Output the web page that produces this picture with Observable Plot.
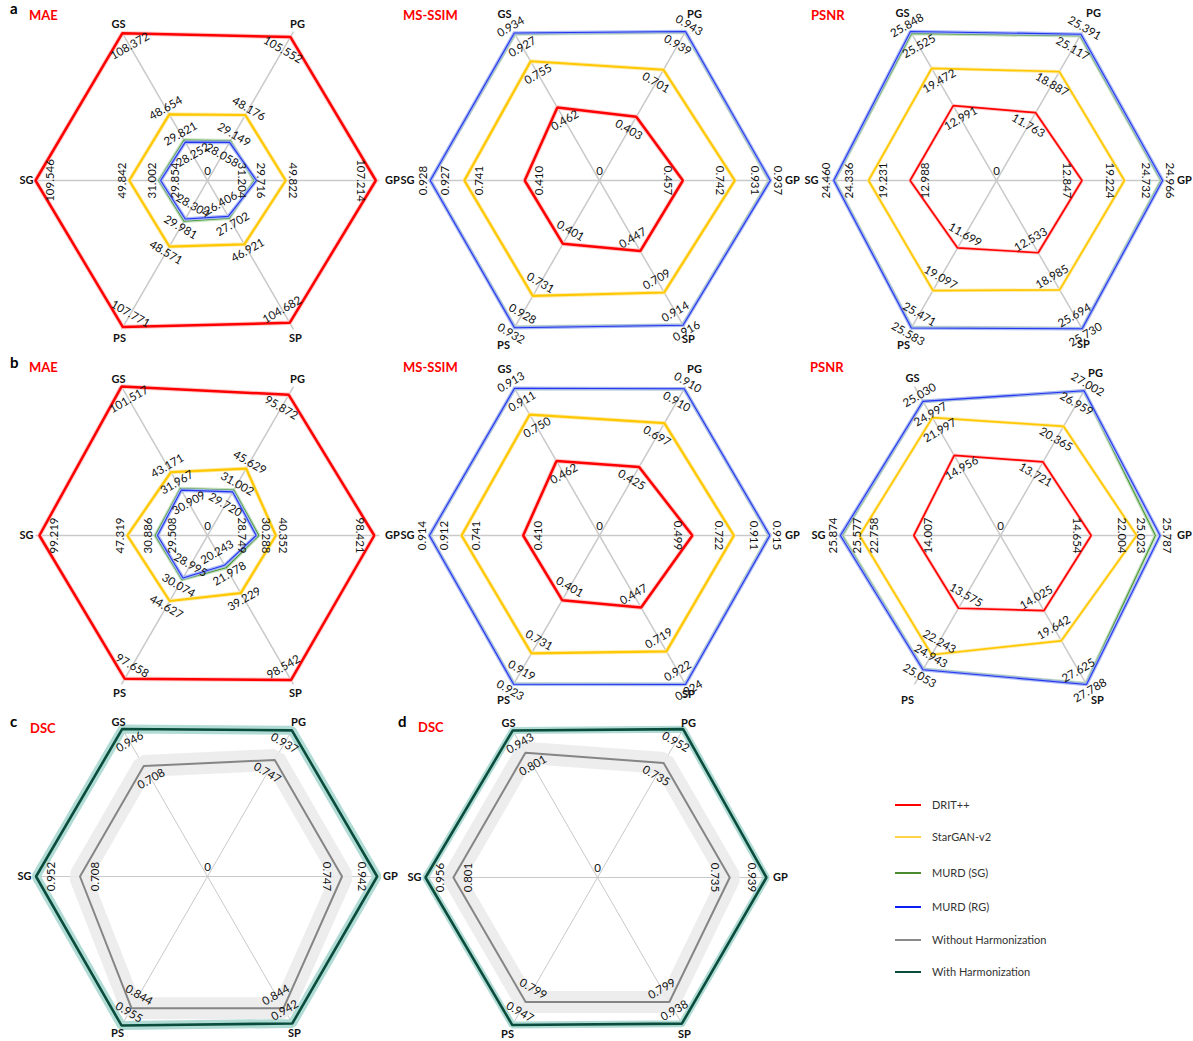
<!DOCTYPE html>
<html><head><meta charset="utf-8">
<script src="https://cdn.jsdelivr.net/npm/d3@7"></script>
<script src="https://cdn.jsdelivr.net/npm/@observablehq/plot@0.6"></script>
<style>
body{margin:0;background:#fff;font-family:Lato,"Open Sans",sans-serif;}
#page{position:relative;width:1193px;height:1041px;overflow:hidden;background:#fff;}
.chart{position:absolute;}
.lbl{position:absolute;font-weight:bold;line-height:1;white-space:nowrap;}
.panel{font-size:15px;color:#000;}
.ttl{font-size:13px;color:#ff0000;}
.leg{position:absolute;font-size:11px;color:#333;line-height:1;white-space:nowrap;}
.sw{position:absolute;height:0;}
</style></head>
<body><div id="page"></div>
<script>
// ---------- data ----------
const axes = ["GS","PG","GP","SP","PS","SG"];

// a — MAE
const maeA_DRIT = [108.372,105.552,107.214,104.682,107.771,109.546];
const maeA_StarGAN = [48.654,48.176,49.822,46.921,48.571,49.842];
const maeA_MURD_SG = [29.821,29.149,29.716,27.702,29.981,31.002];
const maeA_MURD_RG = [28.252,28.058,31.204,26.406,28.304,29.854];
// a — MS-SSIM
const ssimA_DRIT = [0.462,0.403,0.457,0.447,0.401,0.410];
const ssimA_StarGAN = [0.755,0.701,0.742,0.709,0.731,0.741];
const ssimA_MURD_SG = [0.927,0.939,0.931,0.914,0.928,0.927];
const ssimA_MURD_RG = [0.934,0.943,0.937,0.916,0.932,0.928];
// a — PSNR
const psnrA_DRIT = [12.991,11.763,12.847,12.533,11.699,12.988];
const psnrA_StarGAN = [19.472,18.887,19.224,18.985,19.097,19.231];
const psnrA_MURD_SG = [25.525,25.117,24.732,25.694,25.471,24.336];
const psnrA_MURD_RG = [25.848,25.391,24.966,25.730,25.583,24.460];
// b — MAE
const maeB_DRIT = [101.517,95.872,98.421,98.542,97.658,99.219];
const maeB_StarGAN = [43.171,45.629,40.352,39.229,44.627,47.319];
const maeB_MURD_SG = [31.967,31.002,30.288,21.978,30.074,30.886];
const maeB_MURD_RG = [30.909,29.720,28.749,20.243,28.995,29.508];
// b — MS-SSIM
const ssimB_DRIT = [0.462,0.425,0.499,0.447,0.401,0.410];
const ssimB_StarGAN = [0.750,0.697,0.722,0.719,0.731,0.741];
const ssimB_MURD_SG = [0.911,0.910,0.911,0.922,0.919,0.912];
const ssimB_MURD_RG = [0.913,0.910,0.915,0.924,0.923,0.914];
// b — PSNR
const psnrB_DRIT = [14.956,13.721,14.654,14.025,13.575,14.007];
const psnrB_StarGAN = [21.997,20.365,22.004,19.642,22.243,22.758];
const psnrB_MURD_SG = [24.997,26.959,25.023,27.625,24.943,25.577];
const psnrB_MURD_RG = [25.030,27.002,25.787,27.788,25.053,25.874];
// c, d — DSC
const dscC_without = [0.708,0.747,0.747,0.844,0.844,0.708];
const dscC_with = [0.946,0.937,0.942,0.942,0.955,0.952];
const dscD_without = [0.801,0.735,0.735,0.799,0.799,0.801];
const dscD_with = [0.943,0.952,0.939,0.938,0.947,0.956];

const seriesNames = ["DRIT++","StarGAN-v2","MURD (SG)","MURD (RG)"];
const harmNames = ["Without Harmonization","With Harmonization"];

// ---------- styles / layout ----------
const seriesStyle = {
  "DRIT++": {stroke:"#ff0000", w:2.5, halo:"#ffc4c4", hw:4.5},
  "StarGAN-v2": {stroke:"#ffc800", w:2.2, halo:"#ffeaa8", hw:4},
  "MURD (SG)": {stroke:"#4a9a3a", w:1.1, halo:"#bcdcb2", hw:3.5},
  "MURD (RG)": {stroke:"#2536f0", w:1.1, halo:"#a3b3f5", hw:3.6},
  "Without Harmonization": {stroke:"#858585", w:2, halo:"#ebebeb", hw:22},
  "With Harmonization": {stroke:"#0b4d3d", w:2.6, halo:"#a9d8d0", hw:9}
};
const axisAngle = [120,60,0,-60,-120,180];
// offsets of the category labels from the spoke ends, px (GS, PG, GP, SP, PS, SG)
const offMAE  = [[-3,-7],[4,-7],[13,0],[2,9],[-2,9],[-9,0]];
const offSSIM = [[-9,-17],[9,-17],[21,0],[3,10],[-10,16],[-20,0]];
const offPSNRa = [[-8,-18],[11,-18],[16,0],[1,15],[-7,16],[-13,0]];
const offPSNRb = [[-2,-8],[9,-13],[12,0],[11,16],[-7,16],[-10,0]];
const offDSC = [[-3,-5],[5,-5],[11,0],[1,8],[-4,8],[-11,0]];

const charts = [
  {cx:207, cy:180, lab:offMAE, series:[["DRIT++",maeA_DRIT,-1],["StarGAN-v2",maeA_StarGAN,1],["MURD (SG)",maeA_MURD_SG,1],["MURD (RG)",maeA_MURD_RG,-1]]},
  {cx:599, cy:180, lab:offSSIM, series:[["DRIT++",ssimA_DRIT,-1],["StarGAN-v2",ssimA_StarGAN,-1],["MURD (SG)",ssimA_MURD_SG,-1],["MURD (RG)",ssimA_MURD_RG,1]]},
  {cx:996, cy:180, lab:offPSNRa, series:[["DRIT++",psnrA_DRIT,-1],["StarGAN-v2",psnrA_StarGAN,-1],["MURD (SG)",psnrA_MURD_SG,-1],["MURD (RG)",psnrA_MURD_RG,1]], thin:true},
  {cx:207, cy:535, lab:offMAE, series:[["DRIT++",maeB_DRIT,-1],["StarGAN-v2",maeB_StarGAN,1],["MURD (SG)",maeB_MURD_SG,1],["MURD (RG)",maeB_MURD_RG,-1]]},
  {cx:599, cy:535, lab:offSSIM, series:[["DRIT++",ssimB_DRIT,-1],["StarGAN-v2",ssimB_StarGAN,-1],["MURD (SG)",ssimB_MURD_SG,-1],["MURD (RG)",ssimB_MURD_RG,1]]},
  {cx:1000, cy:535, lab:offPSNRb, series:[["DRIT++",psnrB_DRIT,-1],["StarGAN-v2",psnrB_StarGAN,-1],["MURD (SG)",psnrB_MURD_SG,-1],["MURD (RG)",psnrB_MURD_RG,1]], thin:true},
  {cx:207, cy:876, lab:offDSC, series:[["Without Harmonization",dscC_without,-1],["With Harmonization",dscC_with,-1]], spoke:1},
  {cx:597, cy:877, lab:offDSC, series:[["Without Harmonization",dscD_without,-1],["With Harmonization",dscD_with,-1]], spoke:1, thinBand:true}
];

const page = document.getElementById("page");
const R = 172, W = 440, H = 380;
const fmt = d3.format(".3f");
const rad = i => axisAngle[i] * Math.PI / 180;
const rot = i => { let r = 90 - axisAngle[i]; while (r > 90) r -= 180; while (r < -90) r += 180; return r; };

function radar(cfg) {
  const max = d3.max(cfg.series.flatMap(s => s[1]));
  const rows = cfg.series.map(([name, values, side]) =>
    values.map((v, i) => ({name, i, v, r: v / max, side})));
  const marks = [];
  marks.push(Plot.link(axes, {
    x1: () => 0, y1: () => 0,
    x2: (d, i) => Math.cos(rad(i)), y2: (d, i) => Math.sin(rad(i)),
    stroke: "#c9c9c9", strokeWidth: cfg.spoke || 1.5
  }));
  rows.forEach(ser => {
    const st = seriesStyle[ser[0].name];
    let w = st.w, hw = st.hw;
    if (cfg.thin && (ser[0].name === "DRIT++" || ser[0].name === "StarGAN-v2")) { w = 1.7; hw = 3.5; }
    if (cfg.thinBand && ser[0].name === "With Harmonization") hw = 7;
    const X = d => d.r * Math.cos(rad(d.i)), Y = d => d.r * Math.sin(rad(d.i));
    marks.push(Plot.line(ser, {x: X, y: Y, curve: "linear-closed", stroke: st.halo, strokeWidth: hw, strokeLinejoin: "miter", strokeOpacity: 0.9}));
    marks.push(Plot.line(ser, {x: X, y: Y, curve: "linear-closed", stroke: st.stroke, strokeWidth: w, strokeLinejoin: "miter"}));
  });
  const flat = rows.flat();
  const off = d => d.r + (d.side > 0 ? 7 : -15) / R;
  marks.push(Plot.text(flat, {
    x: d => off(d) * Math.cos(rad(d.i)), y: d => off(d) * Math.sin(rad(d.i)),
    text: d => fmt(d.v), rotate: d => rot(d.i), fontSize: 11.5, fill: "#111"
  }));
  marks.push(Plot.text(axes, {
    x: (d, i) => Math.cos(rad(i)) + cfg.lab[i][0] / R,
    y: (d, i) => Math.sin(rad(i)) - cfg.lab[i][1] / R,
    text: d => d, fontWeight: "bold", fontSize: 11, fill: "#111"
  }));
  marks.push(Plot.text(["0"], {x: () => 0, y: () => 0, text: d => d, dy: -9, fontSize: 11.5, fill: "#111"}));
  const svg = Plot.plot({
    width: W, height: H, margin: 0,
    x: {domain: [-W / 2 / R, W / 2 / R], axis: null},
    y: {domain: [-H / 2 / R, H / 2 / R], axis: null},
    style: {background: "transparent", overflow: "visible", fontFamily: "Lato, 'Open Sans', sans-serif", maxWidth: "none"},
    marks
  });
  svg.classList.add("chart");
  svg.style.left = (cfg.cx - W / 2) + "px";
  svg.style.top = (cfg.cy - H / 2) + "px";
  svg.style.position = "absolute";
  page.appendChild(svg);
}
charts.forEach(radar);

// ---------- titles ----------
const titles = [
  ["a","panel",10,1],["MAE","ttl",29,9],["MS-SSIM","ttl",403,9],["PSNR","ttl",811,9],
  ["b","panel",10,355],["MAE","ttl",29,361],["MS-SSIM","ttl",403,361],["PSNR","ttl",810,361],
  ["c","panel",10,714],["DSC","ttl",30,722],
  ["d","panel",398,714],["DSC","ttl",418,721]
];
titles.forEach(([t, cls, x, y]) => {
  const el = document.createElement("div");
  el.className = "lbl " + cls; el.textContent = t;
  el.style.left = x + "px"; el.style.top = y + "px";
  page.appendChild(el);
});

// ---------- legend ----------
const legendItems = [
  ["DRIT++","#ff0000",805,2],["StarGAN-v2","#ffd24a",837,2],["MURD (SG)","#4a8a30",873,2],
  ["MURD (RG)","#0a1ef5",907,2],["Without Harmonization","#8a8a8a",940,2.5],["With Harmonization","#0b4d3d",972,2.5]
];
legendItems.forEach(([name, color, y, w]) => {
  const sw = document.createElement("div");
  sw.className = "sw";
  sw.style.left = "895px"; sw.style.width = "26px"; sw.style.top = (y - w / 2) + "px";
  sw.style.borderTop = w + "px solid " + color;
  page.appendChild(sw);
  const tx = document.createElement("div");
  tx.className = "leg"; tx.textContent = name;
  tx.style.left = "932px"; tx.style.top = (y - 6) + "px";
  page.appendChild(tx);
});
</script>
</body></html>
